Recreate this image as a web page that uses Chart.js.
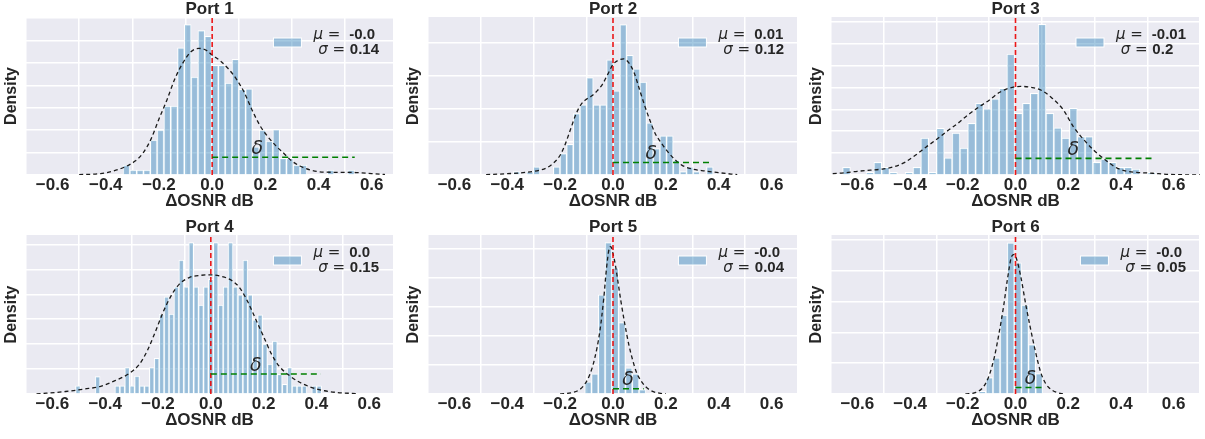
<!DOCTYPE html>
<html>
<head>
<meta charset="utf-8">
<script src="https://cdn.jsdelivr.net/npm/chart.js@4.4.0/dist/chart.umd.min.js"></script>
<style>
	body { margin: 0; background: #fff; width: 1205px; height: 439px; position: relative; overflow: hidden; }
	canvas { position: absolute; }
</style>
</head>
<body>
<canvas id="p1"></canvas>
<canvas id="p2"></canvas>
<canvas id="p3"></canvas>
<canvas id="p4"></canvas>
<canvas id="p5"></canvas>
<canvas id="p6"></canvas>
<script>
// titres et stats
const titles = ["Port 1", "Port 2", "Port 3", "Port 4", "Port 5", "Port 6"];
const muLabels = ["-0.0", "0.01", "-0.01", "0.0", "-0.0", "-0.0"];
const sigmaLabels = ["0.14", "0.12", "0.2", "0.15", "0.04", "0.05"];
const xTicks = [-0.6, -0.4, -0.2, 0.0, 0.2, 0.4, 0.6];
const xMin = [-0.7, -0.7, -0.7, -0.7, -0.7, -0.7];
const xMax = [0.68, 0.7, 0.7, 0.69, 0.7, 0.7];
const yMax = [7.05, 4.79, 7.22, 6.38, 5.49, 5.15];

// histogrammes : début, largeur de classe, hauteurs
const binStart = [-0.335, -0.377, -0.656, -0.5124, -0.107, -0.1395];
const binWidth = [0.0256, 0.0252, 0.02968, 0.01864, 0.0257, 0.027];
const hist1 = [0.44,0.22,0.22,0.22,1.56,2.0,3.08,3.08,5.67,6.71,4.37,6.44,6.19,4.89,4.89,4.1,5.16,3.82,3.85,1.26,2.0,1.51,2.03,0.74,0.74,0.44,0.44,0,0,0,0.22,0,0,0.22];
const hist2 = [0.1,0,0.1,0.25,0,0,0.25,0.65,0.93,1.86,2.13,2.95,2.13,2.13,3.49,2.55,4.56,3.63,3.22,2.82,1.58,0.8,1.19,1.19,0.45,0.1,0.25,0.1,0,0.25];
const hist3 = [0.35,0,0,0.12,0.58,0.35,0.12,0,0.12,0.35,1.69,0.12,2.13,0.78,1.92,1.23,2.36,3.28,3.02,3.48,3.96,5.53,2.82,3.28,3.73,6.88,2.82,2.15,1.69,3.05,1.75,1.75,0.58,0.73,0.58,0.35,0.35,0.27,0,0.12];
const hist4 = [0.33,0,0,0,0.7,0,0,0,0.33,0.33,1.06,0.33,0.72,0.33,0.33,1.06,1.43,3.21,3.9,3.21,4.3,5.37,4.3,6.08,4.3,3.57,4.3,4.6,6.08,3.57,4.3,6.08,4.3,3.98,5.37,3.98,2.98,3.18,2.0,1.2,2.12,0.79,0.39,1.06,0.33,0.33,0.33,0,0.33,0.33];
const hist5 = [0.42,0.7,3.42,5.23,4.36,2.47,0.9,0.7,0.15];
const hist6 = [0.09,0.53,1.17,2.56,4.9,4.25,2.88,1.6,0.66];

// courbes KDE
const kdeX1 = [-0.5,-0.42,-0.38,-0.33,-0.29,-0.26,-0.23,-0.2,-0.17,-0.14,-0.11,-0.08,-0.05,-0.02,0.0,0.03,0.06,0.09,0.12,0.15,0.18,0.21,0.24,0.27,0.3,0.33,0.37,0.42,0.48,0.54,0.6,0.65];
const kdeY1 = [0.02,0.06,0.15,0.35,0.62,0.98,1.6,2.5,3.35,4.3,5.0,5.5,5.65,5.55,5.35,5.1,4.75,4.3,3.7,2.9,2.2,1.7,1.3,0.96,0.62,0.4,0.22,0.13,0.12,0.11,0.06,0.02];
const kdeX2 = [-0.48,-0.4,-0.33,-0.28,-0.25,-0.22,-0.2,-0.18,-0.16,-0.14,-0.12,-0.1,-0.08,-0.06,-0.04,-0.02,0.0,0.02,0.04,0.06,0.08,0.1,0.12,0.14,0.16,0.18,0.2,0.23,0.26,0.3,0.35,0.4,0.47];
const kdeY2 = [0.01,0.04,0.08,0.14,0.22,0.4,0.6,0.95,1.4,1.85,2.15,2.3,2.4,2.55,2.75,3.05,3.35,3.48,3.52,3.4,3.1,2.6,2.1,1.65,1.25,1.0,0.78,0.5,0.3,0.18,0.12,0.07,0.01];
const kdeX3 = [-0.72,-0.65,-0.6,-0.55,-0.5,-0.46,-0.42,-0.38,-0.34,-0.3,-0.26,-0.22,-0.18,-0.14,-0.1,-0.06,-0.02,0.02,0.06,0.1,0.14,0.18,0.22,0.26,0.3,0.34,0.38,0.42,0.46,0.52,0.58,0.7];
const kdeY3 = [0.05,0.1,0.17,0.22,0.28,0.38,0.58,0.9,1.27,1.62,2.0,2.35,2.75,3.1,3.42,3.78,3.98,4.05,4.0,3.86,3.5,3.0,2.2,1.6,1.1,0.7,0.35,0.18,0.12,0.08,0.03,0.0];
const kdeX4 = [-0.66,-0.55,-0.48,-0.42,-0.36,-0.31,-0.27,-0.24,-0.21,-0.18,-0.15,-0.12,-0.08,-0.04,0.0,0.04,0.08,0.11,0.14,0.17,0.2,0.23,0.26,0.3,0.34,0.38,0.43,0.48,0.56];
const kdeY4 = [0.0,0.1,0.2,0.3,0.55,0.82,1.2,1.75,2.5,3.3,3.95,4.4,4.68,4.76,4.78,4.72,4.55,4.25,3.7,3.0,2.3,1.6,1.1,0.72,0.45,0.27,0.13,0.06,0.01];
const kdeX5 = [-0.2,-0.16,-0.13,-0.11,-0.09,-0.07,-0.05,-0.035,-0.025,-0.015,-0.008,0.0,0.01,0.02,0.03,0.045,0.06,0.075,0.09,0.105,0.125,0.15,0.18,0.2];
const kdeY5 = [0,0.04,0.13,0.3,0.62,1.2,2.15,3.3,4.3,5.0,5.09,4.85,4.4,3.8,3.2,2.4,1.7,1.15,0.72,0.47,0.24,0.09,0.02,0];
const kdeX6 = [-0.19,-0.15,-0.12,-0.1,-0.08,-0.065,-0.045,-0.03,-0.015,-0.005,0.005,0.02,0.04,0.055,0.075,0.095,0.115,0.14,0.17,0.19];
const kdeY6 = [0,0.05,0.25,0.6,1.2,1.85,2.85,3.75,4.45,4.52,4.35,3.8,2.85,2.2,1.4,0.72,0.33,0.12,0.02,0];

// ligne delta (verte)
const deltaEnd = [0.536, 0.364, 0.518, 0.417, 0.116, 0.114];
const deltaLevel = [0.79, 0.38, 0.76, 0.8, 0.18, 0.21];
const deltaLabelX = [0.17, 0.145, 0.219, 0.17, 0.057, 0.057];

const hists = [hist1, hist2, hist3, hist4, hist5, hist6];
const kdeXs = [kdeX1, kdeX2, kdeX3, kdeX4, kdeX5, kdeX6];
const kdeYs = [kdeY1, kdeY2, kdeY3, kdeY4, kdeY5, kdeY6];

// placement des panneaux
const boxes = [
	{ left: 0, top: 0, width: 400, height: 215, pad: { left: 26, right: 7, top: 17, bottom: 10 } },
	{ left: 400, top: 0, width: 400, height: 215, pad: { left: 28, right: 2, top: 17, bottom: 10 } },
	{ left: 800, top: 0, width: 405, height: 215, pad: { left: 31, right: 5, top: 17, bottom: 10 } },
	{ left: 0, top: 215, width: 400, height: 224, pad: { left: 26, right: 7, top: 20, bottom: 15 } },
	{ left: 400, top: 215, width: 400, height: 224, pad: { left: 28, right: 2, top: 20, bottom: 15 } },
	{ left: 800, top: 215, width: 405, height: 224, pad: { left: 31, right: 5, top: 20, bottom: 15 } },
];

const FONT = '"Liberation Sans", Arial, sans-serif';
const INK = "#262626";
const BAR_FILL = "rgba(31,119,180,0.4)";

const decorations = {
	id: "decorations",
	beforeDraw(chart, args, opts) {
		const { ctx, chartArea: a } = chart;
		ctx.save();
		ctx.fillStyle = "#eaeaf2";
		ctx.fillRect(a.left, a.top, a.right - a.left, a.bottom - a.top);
		ctx.restore();
	},
	afterDraw(chart, args, opts) {
		const { ctx, chartArea: a, scales } = chart;
		const cx = (a.left + a.right) / 2;
		const cy = (a.top + a.bottom) / 2;
		ctx.save();
		ctx.fillStyle = INK;
		ctx.textAlign = "center";
		ctx.textBaseline = "middle";
		ctx.font = "bold 17px " + FONT;
		ctx.fillText(opts.title, cx, a.top - 8);
		ctx.fillText("ΔOSNR dB", cx, a.bottom + 26);
		ctx.save();
		ctx.translate(a.left - 14, cy);
		ctx.rotate(-Math.PI / 2);
		ctx.font = "bold 16px " + FONT;
		ctx.fillText("Density", 0, 0);
		ctx.restore();

		// delta
		ctx.font = 'italic 19px "DejaVu Sans"';
		ctx.textBaseline = "bottom";
		ctx.fillText("δ", scales.x.getPixelForValue(opts.deltaX), scales.y.getPixelForValue(opts.deltaY) + 1);

		// légende
		const headFont = 'italic 15px "DejaVu Sans"';
		const valFont = "bold 15px " + FONT;
		ctx.textAlign = "left";
		ctx.textBaseline = "middle";
		ctx.font = headFont;
		const h1 = ctx.measureText("μ = ").width;
		const h2 = ctx.measureText(" σ = ").width;
		ctx.font = valFont;
		const v1 = ctx.measureText(" " + opts.mu).width;
		const v2 = ctx.measureText(opts.sigma).width;
		const textLeft = a.right - 14 - Math.max(h1 + v1, h2 + v2);
		const y1 = a.top + 18, y2 = a.top + 33;
		ctx.font = headFont;
		ctx.fillText("μ = ", textLeft, y1);
		ctx.fillText(" σ = ", textLeft, y2);
		ctx.font = valFont;
		ctx.fillText(" " + opts.mu, textLeft + h1, y1);
		ctx.fillText(opts.sigma, textLeft + h2, y2);
		ctx.fillStyle = BAR_FILL;
		ctx.fillRect(textLeft - 40, a.top + 21, 28, 9);
		ctx.strokeStyle = "#fff";
		ctx.lineWidth = 1;
		ctx.strokeRect(textLeft - 40, a.top + 21, 28, 9);
		ctx.restore();
	},
};

const fmtTick = (v) => (v < 0 ? "\u2212" + Math.abs(v).toFixed(1) : v.toFixed(1));

for (let p = 0; p < 6; p++) {
	const box = boxes[p];
	const canva = document.querySelector("#p" + (p + 1));
	canva.width = box.width;
	canva.height = box.height;
	canva.style.left = box.left + "px";
	canva.style.top = box.top + "px";

	const bars = hists[p].map((h, i) => ({ x: binStart[p] + (i + 0.5) * binWidth[p], y: h }));
	const kde = kdeXs[p].map((x, i) => ({ x: x, y: kdeYs[p][i] }));

	new Chart(canva, {
		type: "bar",
		data: {
			datasets: [
				{
					type: "line",
					data: [{ x: 0, y: deltaLevel[p] }, { x: deltaEnd[p], y: deltaLevel[p] }],
					borderColor: "#008000",
					borderWidth: 1.6,
					borderDash: [6, 4],
					pointRadius: 0,
					order: 1,
				},
				{
					type: "line",
					data: [{ x: 0, y: 0 }, { x: 0, y: yMax[p] }],
					borderColor: "rgba(235,0,0,0.9)",
					borderWidth: 1.6,
					borderDash: [5, 3],
					pointRadius: 0,
					order: 2,
				},
				{
					type: "line",
					data: kde,
					borderColor: "#1a1a1a",
					borderWidth: 1.3,
					borderDash: [4, 3],
					pointRadius: 0,
					cubicInterpolationMode: "monotone",
					order: 3,
				},
				{
					type: "bar",
					data: bars,
					backgroundColor: BAR_FILL,
					borderColor: "#ffffff",
					borderWidth: 1,
					barPercentage: 1,
					categoryPercentage: 1,
					order: 4,
				},
			],
		},
		options: {
			responsive: false,
			animation: false,
			devicePixelRatio: 1,
			layout: { padding: box.pad },
			plugins: {
				legend: { display: false },
				tooltip: { enabled: false },
				decorations: {
					title: titles[p],
					mu: muLabels[p],
					sigma: sigmaLabels[p],
					deltaX: deltaLabelX[p],
					deltaY: deltaLevel[p],
				},
			},
			scales: {
				x: {
					type: "linear",
					min: xMin[p],
					max: xMax[p],
					offset: false,
					border: { display: false },
					grid: { color: "#ffffff", lineWidth: 1.5, drawTicks: false },
					afterBuildTicks: (scale) => {
						scale.ticks = xTicks.map((v) => ({ value: v }));
					},
					afterFit: (scale) => {
						scale.height = 30;
					},
					ticks: {
						autoSkip: false,
						maxRotation: 0,
						padding: 0,
						color: INK,
						font: { family: FONT, size: 17, weight: "bold" },
						callback: (v) => fmtTick(v),
					},
				},
				y: {
					type: "linear",
					min: 0,
					max: yMax[p],
					border: { display: false },
					grid: { color: "#ffffff", lineWidth: 1.5, drawTicks: false },
					afterBuildTicks: (scale) => {
						const t = [];
						for (let v = 0; v <= yMax[p]; v++) t.push({ value: v });
						scale.ticks = t;
					},
					afterFit: (scale) => {
						scale.width = 0;
					},
					ticks: { display: false },
				},
			},
		},
		plugins: [decorations],
	});
}
</script>
</body>
</html>
